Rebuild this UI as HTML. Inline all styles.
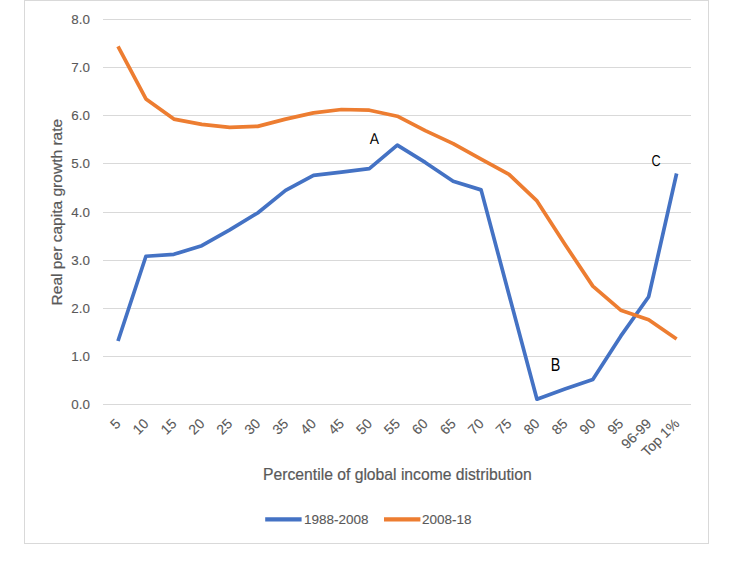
<!DOCTYPE html>
<html><head><meta charset="utf-8"><style>
html,body{margin:0;padding:0;background:#fff;}
body{width:736px;height:562px;position:relative;overflow:hidden;font-family:"Liberation Sans",sans-serif;}
.box{position:absolute;left:24px;top:0;width:685px;height:544px;box-sizing:border-box;border:1px solid #d9d9d9;}
svg{position:absolute;left:0;top:0;}
</style></head><body>
<div class="box"></div>
<svg width="736" height="562" viewBox="0 0 736 562" font-family="Liberation Sans, sans-serif">

<rect x="103" y="19" width="588" height="1" fill="#d9d9d9"/>
<rect x="103" y="67" width="588" height="1" fill="#d9d9d9"/>
<rect x="103" y="115" width="588" height="1" fill="#d9d9d9"/>
<rect x="103" y="163" width="588" height="1" fill="#d9d9d9"/>
<rect x="103" y="212" width="588" height="1" fill="#d9d9d9"/>
<rect x="103" y="260" width="588" height="1" fill="#d9d9d9"/>
<rect x="103" y="308" width="588" height="1" fill="#d9d9d9"/>
<rect x="103" y="356" width="588" height="1" fill="#d9d9d9"/>
<rect x="103" y="404" width="588" height="1" fill="#d9d9d9"/>
<text x="89.9" y="409.2" font-size="13.4" fill="#595959" stroke="#595959" stroke-width="0.12" text-anchor="end">0.0</text>
<text x="89.9" y="361.2" font-size="13.4" fill="#595959" stroke="#595959" stroke-width="0.12" text-anchor="end">1.0</text>
<text x="89.9" y="313.2" font-size="13.4" fill="#595959" stroke="#595959" stroke-width="0.12" text-anchor="end">2.0</text>
<text x="89.9" y="265.2" font-size="13.4" fill="#595959" stroke="#595959" stroke-width="0.12" text-anchor="end">3.0</text>
<text x="89.9" y="217.2" font-size="13.4" fill="#595959" stroke="#595959" stroke-width="0.12" text-anchor="end">4.0</text>
<text x="89.9" y="168.2" font-size="13.4" fill="#595959" stroke="#595959" stroke-width="0.12" text-anchor="end">5.0</text>
<text x="89.9" y="120.2" font-size="13.4" fill="#595959" stroke="#595959" stroke-width="0.12" text-anchor="end">6.0</text>
<text x="89.9" y="72.2" font-size="13.4" fill="#595959" stroke="#595959" stroke-width="0.12" text-anchor="end">7.0</text>
<text x="89.9" y="24.2" font-size="13.4" fill="#595959" stroke="#595959" stroke-width="0.12" text-anchor="end">8.0</text>
<text x="121.6" y="424.4" font-size="14.0" fill="#595959" stroke="#595959" stroke-width="0.12" text-anchor="end" transform="rotate(-45 121.6 424.4)">5</text>
<text x="149.5" y="424.4" font-size="14.0" fill="#595959" stroke="#595959" stroke-width="0.12" text-anchor="end" transform="rotate(-45 149.5 424.4)">10</text>
<text x="177.5" y="424.4" font-size="14.0" fill="#595959" stroke="#595959" stroke-width="0.12" text-anchor="end" transform="rotate(-45 177.5 424.4)">15</text>
<text x="205.4" y="424.4" font-size="14.0" fill="#595959" stroke="#595959" stroke-width="0.12" text-anchor="end" transform="rotate(-45 205.4 424.4)">20</text>
<text x="233.3" y="424.4" font-size="14.0" fill="#595959" stroke="#595959" stroke-width="0.12" text-anchor="end" transform="rotate(-45 233.3 424.4)">25</text>
<text x="261.2" y="424.4" font-size="14.0" fill="#595959" stroke="#595959" stroke-width="0.12" text-anchor="end" transform="rotate(-45 261.2 424.4)">30</text>
<text x="289.2" y="424.4" font-size="14.0" fill="#595959" stroke="#595959" stroke-width="0.12" text-anchor="end" transform="rotate(-45 289.2 424.4)">35</text>
<text x="317.1" y="424.4" font-size="14.0" fill="#595959" stroke="#595959" stroke-width="0.12" text-anchor="end" transform="rotate(-45 317.1 424.4)">40</text>
<text x="345.0" y="424.4" font-size="14.0" fill="#595959" stroke="#595959" stroke-width="0.12" text-anchor="end" transform="rotate(-45 345.0 424.4)">45</text>
<text x="373.0" y="424.4" font-size="14.0" fill="#595959" stroke="#595959" stroke-width="0.12" text-anchor="end" transform="rotate(-45 373.0 424.4)">50</text>
<text x="400.9" y="424.4" font-size="14.0" fill="#595959" stroke="#595959" stroke-width="0.12" text-anchor="end" transform="rotate(-45 400.9 424.4)">55</text>
<text x="428.8" y="424.4" font-size="14.0" fill="#595959" stroke="#595959" stroke-width="0.12" text-anchor="end" transform="rotate(-45 428.8 424.4)">60</text>
<text x="456.8" y="424.4" font-size="14.0" fill="#595959" stroke="#595959" stroke-width="0.12" text-anchor="end" transform="rotate(-45 456.8 424.4)">65</text>
<text x="484.7" y="424.4" font-size="14.0" fill="#595959" stroke="#595959" stroke-width="0.12" text-anchor="end" transform="rotate(-45 484.7 424.4)">70</text>
<text x="512.6" y="424.4" font-size="14.0" fill="#595959" stroke="#595959" stroke-width="0.12" text-anchor="end" transform="rotate(-45 512.6 424.4)">75</text>
<text x="540.6" y="424.4" font-size="14.0" fill="#595959" stroke="#595959" stroke-width="0.12" text-anchor="end" transform="rotate(-45 540.6 424.4)">80</text>
<text x="568.5" y="424.4" font-size="14.0" fill="#595959" stroke="#595959" stroke-width="0.12" text-anchor="end" transform="rotate(-45 568.5 424.4)">85</text>
<text x="596.4" y="424.4" font-size="14.0" fill="#595959" stroke="#595959" stroke-width="0.12" text-anchor="end" transform="rotate(-45 596.4 424.4)">90</text>
<text x="624.3" y="424.4" font-size="14.0" fill="#595959" stroke="#595959" stroke-width="0.12" text-anchor="end" transform="rotate(-45 624.3 424.4)">95</text>
<text x="652.3" y="424.4" font-size="14.0" fill="#595959" stroke="#595959" stroke-width="0.12" text-anchor="end" transform="rotate(-45 652.3 424.4)">96-99</text>
<text x="680.2" y="424.4" font-size="14.0" fill="#595959" stroke="#595959" stroke-width="0.12" text-anchor="end" transform="rotate(-45 680.2 424.4)">Top 1%</text>
<polyline points="118.00,340.98 145.93,256.27 173.86,254.35 201.79,245.69 229.72,229.81 257.65,212.96 285.58,190.34 313.51,175.43 341.44,172.06 369.37,168.69 397.30,145.11 425.23,162.43 453.16,181.20 481.09,189.86 509.02,294.77 536.95,399.21 564.88,389.10 592.81,379.48 620.74,336.16 648.67,296.70 676.60,173.50" fill="none" stroke="#4472c4" stroke-width="3.7" stroke-linejoin="round" stroke-linecap="butt"/>
<polyline points="118.00,46.45 145.93,98.91 173.86,119.12 201.79,124.41 229.72,127.30 257.65,126.34 285.58,119.12 313.51,112.86 341.44,109.49 369.37,110.22 397.30,116.23 425.23,130.67 453.16,143.66 481.09,159.06 509.02,174.46 536.95,200.93 564.88,244.24 592.81,286.11 620.74,310.18 648.67,319.80 676.60,339.05" fill="none" stroke="#ed7d31" stroke-width="3.7" stroke-linejoin="round" stroke-linecap="butt"/>
<text x="62" y="212.1" font-size="15.55" fill="#595959" stroke="#595959" stroke-width="0.2" text-anchor="middle" transform="rotate(-90 62 212.1)">Real per capita growth rate</text>
<text x="397.4" y="479.8" font-size="15.7" fill="#595959" stroke="#595959" stroke-width="0.2" text-anchor="middle">Percentile of global income distribution</text>
<line x1="265.2" y1="519.4" x2="301.6" y2="519.4" stroke="#4472c4" stroke-width="4.2"/>
<text x="304" y="523.6" font-size="13.5" fill="#595959" stroke="#595959" stroke-width="0.12">1988-2008</text>
<line x1="384" y1="519.4" x2="420.4" y2="519.4" stroke="#ed7d31" stroke-width="4.2"/>
<text x="422" y="523.6" font-size="13.5" fill="#595959" stroke="#595959" stroke-width="0.12">2008-18</text>
<text x="0" y="0" font-size="15.8" fill="#000" text-anchor="middle" text-rendering="geometricPrecision" transform="translate(374.4 143.7) scale(0.88 1)">A</text>
<text x="0" y="0" font-size="17.7" fill="#000" text-anchor="middle" transform="translate(555.6 370.8) scale(0.81 1)">B</text>
<text x="0" y="0" font-size="15.8" fill="#000" text-anchor="middle" text-rendering="geometricPrecision" transform="translate(656 166.1) scale(0.8 1)">C</text>
</svg></body></html>
